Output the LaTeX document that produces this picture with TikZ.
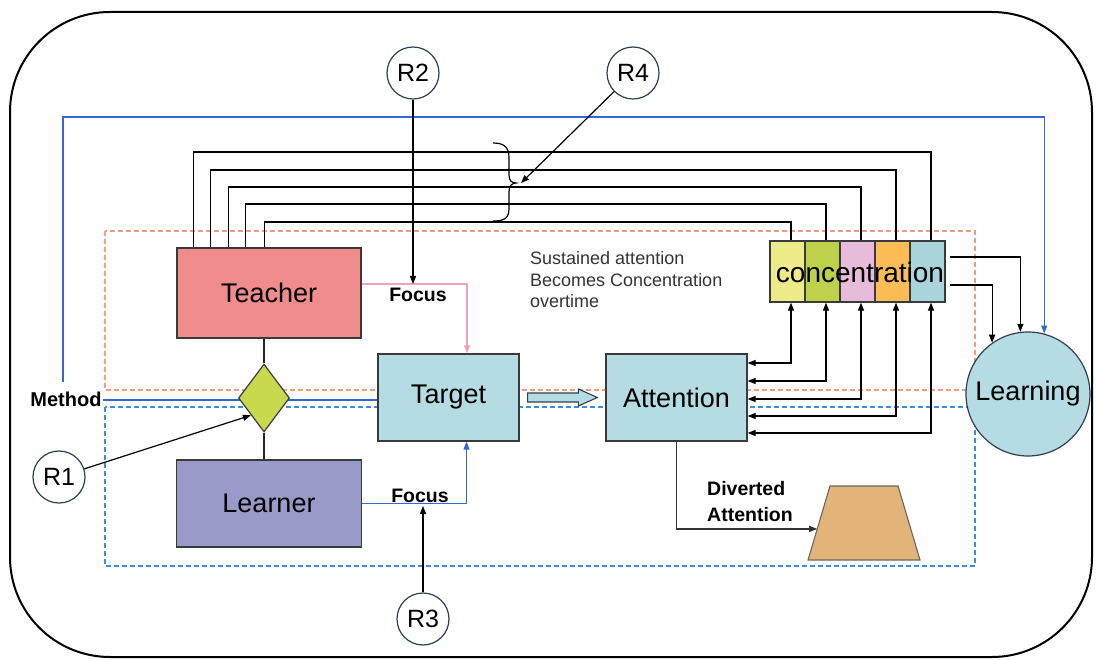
\documentclass[tikz,border=0pt]{standalone}
\usepackage{fontspec}
\setmainfont{Liberation Sans}
\usetikzlibrary{arrows.meta,calc,shapes.geometric}
\definecolor{teachc}{HTML}{F08C8C}
\definecolor{learnc}{HTML}{9A9ACA}
\definecolor{diac}{HTML}{C9D94E}
\definecolor{tgtc}{HTML}{B4DCE2}
\definecolor{cella}{HTML}{EEEC8A}
\definecolor{cellb}{HTML}{BDD24A}
\definecolor{cellc}{HTML}{E6BCDA}
\definecolor{celld}{HTML}{FDBD56}
\definecolor{celle}{HTML}{A9D4DC}
\definecolor{trapc}{HTML}{E3B47A}
\definecolor{orgdash}{HTML}{F59C7C}
\definecolor{bluedash}{HTML}{3A8EE0}
\definecolor{blueln}{HTML}{3366D6}
\definecolor{pinkln}{HTML}{F4A2B6}
\definecolor{boxln}{HTML}{3A3A3A}
\definecolor{rln}{HTML}{2F3F4F}
\definecolor{txtgray}{HTML}{333333}
\begin{document}
\begin{tikzpicture}[x=1pt,y=-1pt,
  box/.style={draw=boxln, line width=1.3pt, inner sep=0pt, font=\fontsize{27}{32}\selectfont},
  cell/.style={draw=boxln, line width=1.3pt, inner sep=0pt, minimum width=35pt, minimum height=61pt},
  rc/.style={circle, draw=rln, line width=1.2pt, fill=white, minimum size=52pt, inner sep=0pt, font=\fontsize{25}{30}\selectfont},
  conn/.style={line width=1.2pt, draw=black},
  tip/.style={-{Triangle[length=8pt,width=6pt]}},
  bitip/.style={{Triangle[length=8pt,width=6pt]}-{Triangle[length=8pt,width=6pt]}},
  blueline/.style={line width=1.3pt, draw=blueln},
  pinkline/.style={line width=1.3pt, draw=pinkln},
  boldtxt/.style={font=\fontsize{19.5}{23}\selectfont\bfseries, inner sep=0pt},
  graytxt/.style={font=\fontsize{18}{22}\selectfont, text=txtgray, inner sep=0pt}
]
\useasboundingbox (0,0) rectangle (1096,660);
% outer frame
\draw[line width=2pt, rounded corners=100pt] (10,12) rectangle (1092,657);
% dashed regions
\draw[orgdash, line width=1.6pt, dash pattern=on 5pt off 3pt] (105,231) rectangle (975,390);
\draw[bluedash, line width=1.4pt, dash pattern=on 5pt off 3pt] (105,407) rectangle (975,566);

% main nodes
\node[box, fill=teachc, minimum width=184pt, minimum height=90pt] (Teacher) at (269,293) {Teacher};
\node[box, fill=learnc, minimum width=185pt, minimum height=87pt] (Learner) at (269,503.5) {Learner};
\node[box, fill=tgtc, minimum width=141pt, minimum height=87pt] (Target) at (448.5,397.5) {Target};
\node[box, fill=tgtc, minimum width=141pt, minimum height=87pt] (Attention) at (676.5,397.5) {Attention};
\node[font=\fontsize{20}{24}\selectfont\bfseries, inner sep=1.5pt, anchor=base] (Method) at (66,407) {Method};

% method line (behind diamond)
\draw[blueline] (Method.east) -- (Method.east -| Target.west);
\node[diamond, draw=boxln, line width=1.2pt, fill=diac, minimum width=51pt, minimum height=68pt, inner sep=0pt] (dia) at (264,398) {};
\draw[line width=1.6pt, draw=black!85] (dia.north) -- (dia.north |- Teacher.south);
\draw[line width=1.6pt, draw=black!85] (dia.south) -- (dia.south |- Learner.north);

% concentration cells
\node[cell, fill=cella] (c1) at (787.5,271.5) {};
\node[cell, fill=cellb] (c2) at (822.5,271.5) {};
\node[cell, fill=cellc] (c3) at (857.5,271.5) {};
\node[cell, fill=celld] (c4) at (892.5,271.5) {};
\node[cell, fill=celle] (c5) at (927.5,271.5) {};
\node[font=\fontsize{28}{33}\selectfont, inner sep=0pt] (conc) at (860,272) {concentration};

% learning
\node[circle, draw=rln, line width=1.2pt, fill=tgtc, minimum size=124pt, inner sep=0pt, font=\fontsize{27}{32}\selectfont] (Learning) at (1028,394) {Learning};

% R circles
\node[rc] (R1) at (59,477) {R1};
\node[rc] (R2) at (413,73) {R2};
\node[rc] (R3) at (423,619) {R3};
\node[rc] (R4) at (633,73) {R4};

% top connectors teacher -> concentration
\foreach \i/\dx/\ly/\c in {1/17/152/5, 2/34.5/170/4, 3/52/187/3, 4/69.5/204/2, 5/88/222/1} {
  \coordinate (t\i) at ([xshift=\dx pt]Teacher.north west);
  \coordinate (ct\c) at ([xshift=3.5pt]c\c.north);
  \coordinate (lv\i) at (0,\ly);
  \draw[conn] (t\i) |- (ct\c |- lv\i) -- (ct\c);
}
% bottom connectors concentration <-> attention
\foreach \c/\dy in {1/34.5, 2/16.5, 3/-1.5, 4/-18.5, 5/-35.5} {
  \draw[conn, bitip] ([xshift=3.5pt]c\c.south) |- ([yshift=\dy pt]Attention.east);
}
% concentration -> learning
\draw[conn, tip] ([xshift=4pt,yshift=14.5pt]c5.east) -| (Learning.97);
\draw[conn, tip] ([xshift=4pt,yshift=-13.5pt]c5.east) -| (Learning.125);

% blue outer line: method -> learning
\coordinate (bstart) at (63,382);
\coordinate (btop) at (0,117);
\draw[blueline, tip] (bstart) |- (Learning.75 |- btop) -- (Learning.75);

% focus lines
\draw[pinkline, tip] ([yshift=9pt]Teacher.east) -| ([xshift=18.5pt]Target.north);
\draw[blueline, tip] (Learner.east) -| ([xshift=18pt]Target.south);
\node[boldtxt, anchor=base] (focus1) at (418,302) {Focus};
\node[boldtxt, anchor=base] (focus2) at (420,502) {Focus};

% R arrows
\coordinate (f2) at (413,284);
\coordinate (f3) at (423,506);
\draw[conn, tip] (R2) -- (f2);
\draw[conn, tip] (R3) -- (f3);
\draw[conn, tip] (R1) -- (dia.south west);

% brace
\draw[line width=1.2pt] (493,143) .. controls (505,143) and (509,148) .. (509,158) -- (509,175)
  .. controls (509,181) and (512,183) .. (516,183)
  .. controls (512,183) and (509,186) .. (509,192) -- (509,208)
  .. controls (509,218) and (505,221) .. (493,221);
\coordinate (bt) at (521,183);
\draw[conn, tip] (R4) -- (bt);

% block arrow target -> attention
\coordinate (ba) at ([xshift=8pt]Target.east);
\coordinate (bb) at ([xshift=-8pt]Attention.west);
\draw[fill=tgtc, draw=rln, line width=1.1pt] ($(ba)+(0,-4.5)$) -- ($(bb)+(-19,-4.5)$) -- ($(bb)+(-19,-8.5)$) -- (bb)
  -- ($(bb)+(-19,8.5)$) -- ($(bb)+(-19,4.5)$) -- ($(ba)+(0,4.5)$) -- cycle;

% trapezoid (diverted)
\coordinate (trTL) at (830,486);
\coordinate (trTR) at (898,486);
\coordinate (trBR) at (920,560);
\coordinate (trBL) at (808,560);
\draw[fill=trapc, draw=black!60, line width=1.1pt] (trTL) -- (trTR) -- (trBR) -- (trBL) -- cycle;
\coordinate (trarr) at ($(trTL)!0.58!(trBL)$);
\draw[line width=1.2pt, draw=black!80, tip] (Attention.south) |- (trarr);
\node[boldtxt, anchor=base west] (div1) at (707,495) {Diverted};
\node[boldtxt, anchor=base west] (div2) at (707,521) {Attention};

% sustained text
\node[graytxt, anchor=base west] (s1) at (530,265) {Sustained attention};
\node[graytxt, anchor=base west] (s2) at (530,287) {Becomes Concentration};
\node[graytxt, anchor=base west] (s3) at (530,308) {overtime};
\end{tikzpicture}
\end{document}
